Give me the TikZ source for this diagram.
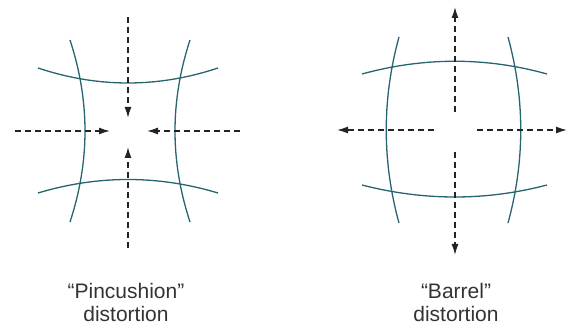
\documentclass[tikz,border=0pt]{standalone}
\usepackage{fontspec}
\setmainfont{Liberation Sans}
\definecolor{gridteal}{RGB}{38, 100, 112}
\definecolor{rayblack}{RGB}{35, 35, 35}
\usetikzlibrary{arrows.meta, positioning}

\begin{document}
\begin{tikzpicture}[
  x=1pt, y=-1pt,
  gridline/.style={draw=gridteal, line width=1.3pt},
  ray/.style={draw=rayblack, line width=1.4pt, dash pattern=on 6pt off 4pt, -{Latex[length=11pt, width=7pt]}},
  caption/.style={align=center, font=\fontsize{21}{23}\selectfont, text=black!80, inner sep=1pt}
]
  \useasboundingbox (0,0) rectangle (568,328);

  % pincushion
  \coordinate (pT) at (128,17);   \coordinate (pTh) at (128,118);
  \coordinate (pB) at (128,248);  \coordinate (pBh) at (128,147);
  \coordinate (pL) at (15,131);   \coordinate (pLh) at (110,131);
  \coordinate (pR) at (240,131);  \coordinate (pRh) at (147,131);
  \draw[gridline] (70,40) .. controls (90,101) and (90,161) .. (70,222);
  \draw[gridline] (190,40) .. controls (170,101) and (170,161) .. (190,222);
  \draw[gridline] (38,68) .. controls (98,88) and (158,88) .. (218,68);
  \draw[gridline] (38,193) .. controls (98,175) and (158,175) .. (218,193);
  \draw[ray] (pT) -- (pTh);
  \draw[ray] (pB) -- (pBh);
  \draw[ray] (pL) -- (pLh);
  \draw[ray] (pR) -- (pRh);
  \node[caption] (pincap) at (126,302) {“Pincushion”\\distortion};

  % barrel
  \coordinate (bT) at (455,112);  \coordinate (bTh) at (455,7);
  \coordinate (bB) at (455,152);  \coordinate (bBh) at (455,255);
  \coordinate (bL) at (434,130);  \coordinate (bLh) at (337,130);
  \coordinate (bR) at (477,130);  \coordinate (bRh) at (567,130);
  \draw[gridline] (399,37) .. controls (382,99) and (382,161) .. (399,223);
  \draw[gridline] (508,37) .. controls (525,99) and (525,161) .. (508,223);
  \draw[gridline] (362,74) .. controls (424,57) and (486,57) .. (547,74);
  \draw[gridline] (362,185) .. controls (424,201) and (486,201) .. (547,185);
  \draw[ray] (bT) -- (bTh);
  \draw[ray] (bB) -- (bBh);
  \draw[ray] (bL) -- (bLh);
  \draw[ray] (bR) -- (bRh);
  \node[caption] (barcap) at (456,302) {“Barrel”\\distortion};
\end{tikzpicture}
\end{document}
